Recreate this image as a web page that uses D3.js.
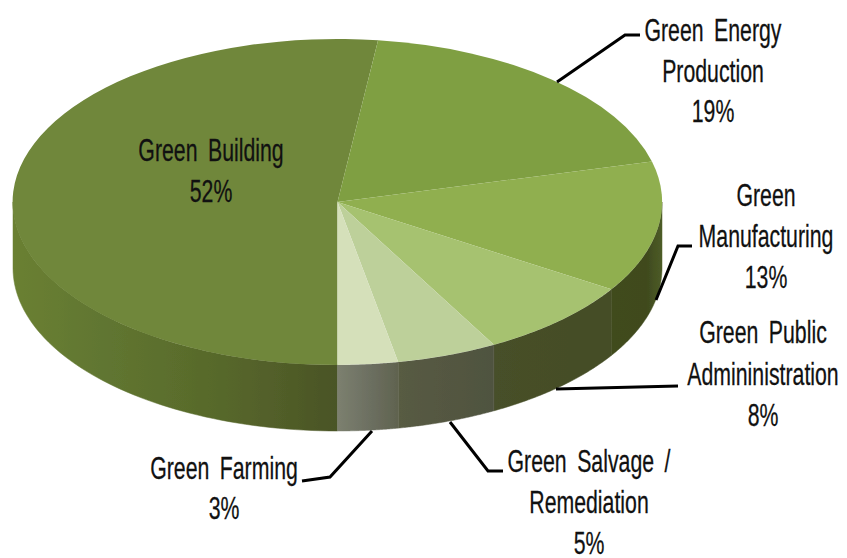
<!DOCTYPE html>
<html><head><meta charset="utf-8">
<script src="https://cdn.jsdelivr.net/npm/d3@7"></script>
<style>html,body{margin:0;background:#fff}svg{display:block}
text{font-family:"Liberation Sans",sans-serif;font-size:28px;fill:#111;stroke:#111;stroke-width:.25;text-anchor:middle;word-spacing:6px}</style>
</head><body><svg width="847" height="558"></svg>
<script>
const categories=["Green Building","Green Energy Production","Green Manufacturing","Green Public Admininistration","Green Salvage / Remediation","Green Farming"];
const values=[52,19,13,8,5,3];
const topColors=["#70873b","#7f9f43","#90af50","#a6c26f","#bdd09a","#d5e0ba"];
const wallStops=[
 [["#6a8033",0],["#607530",.3],["#586a2b",.6],["#525f29",.8],["#4a5425",1]],
 [["#4d5c27",0],["#50602a",1]],
 [["#404b1f",0],["#3f4a1e",.7],["#4d5c27",1]],
 [["#474f29",0],["#444d25",1]],
 [["#585b43",0],["#4f5340",1]],
 [["#7c806f",0],["#6d7062",.5],["#60634f",1]]
];
const labels=[
 ["Green Building","52%"],
 ["Green Energy","Production","19%"],
 ["Green","Manufacturing","13%"],
 ["Green Public","Admininistration","8%"],
 ["Green Salvage /","Remediation","5%"],
 ["Green Farming","3%"]
];
const labelAt=[[211,161,41],[713,41,40.5],[766,206,41],[763,343,41.5],[589,472,41],[224,479,40]];
const leaders=[
 null,
 [[557,82],[625,35],[640,35]],
 [[656,300],[678,246],[692,246]],
 [[556,389],[678,386]],
 [[450,422],[488,471],[503,471]],
 [[372,431],[330,477],[302,481]]
];
const cx=337.5,cy=202,rx=324.5,ry=163,depth=66,sx=.76,sy=1.1;
const svg=d3.select("svg");
const defs=svg.append("defs");
defs.append("filter").attr("id","soft").append("feGaussianBlur").attr("stdDeviation",.7);
const pie=d3.pie().sort(null).value(d=>d).startAngle(Math.PI).endAngle(Math.PI*3);
const arcs=pie(values);
const px=a=>cx+rx*Math.sin(a), py=a=>cy-ry*Math.cos(a);
const g=svg.append("g").attr("filter","url(#soft)");
function wallPath(a0,a1){
 const n=60,pts=d3.range(n+1).map(i=>a0+(a1-a0)*i/n);
 const line=d3.line();
 return line(pts.map(a=>[px(a),py(a)]).concat(pts.slice().reverse().map(a=>[px(a),py(a)+depth])))+"Z";
}
const F0=Math.PI/2,F1=3*Math.PI/2;
arcs.forEach((d,i)=>{
 const segs=[];
 for(const k of [0,-2*Math.PI]){
  const a=Math.max(d.startAngle+k,F0),b=Math.min(d.endAngle+k,F1);
  if(b>a)segs.push([a,b]);
 }
 segs.forEach(([a,b],j)=>{
  const x0=Math.min(px(a),px(b)),x1=Math.max(px(a),px(b));
  const id=`w${i}_${j}`;
  const gr=defs.append("linearGradient").attr("id",id).attr("gradientUnits","userSpaceOnUse")
   .attr("x1",x0).attr("x2",x1).attr("y1",0).attr("y2",0);
  wallStops[i].forEach(s=>gr.append("stop").attr("offset",s[1]).attr("stop-color",s[0]));
  g.append("path").attr("d",wallPath(a,b)).attr("fill",`url(#${id})`).attr("stroke",`url(#${id})`).attr("stroke-width",.5);
 });
});
const arc=d3.arc().innerRadius(0).outerRadius(1);
const topFace=g.append("g").attr("transform",`translate(${cx},${cy}) scale(${rx},${ry})`);
topFace.selectAll("path").data(arcs).join("path").attr("d",arc).attr("fill",(d,i)=>topColors[i]);
const ln=d3.line();
svg.append("g").selectAll("path").data(leaders.filter(Boolean)).join("path")
 .attr("d",d=>ln(d)).attr("fill","none").attr("stroke","#000").attr("stroke-width",3);
labels.forEach((ls,i)=>{
 ls.forEach((s,j)=>svg.append("text")
  .attr("transform",`translate(${labelAt[i][0]},${labelAt[i][1]+j*labelAt[i][2]}) scale(${sx},${sy})`)
  .text(s));
});
</script></body></html>
